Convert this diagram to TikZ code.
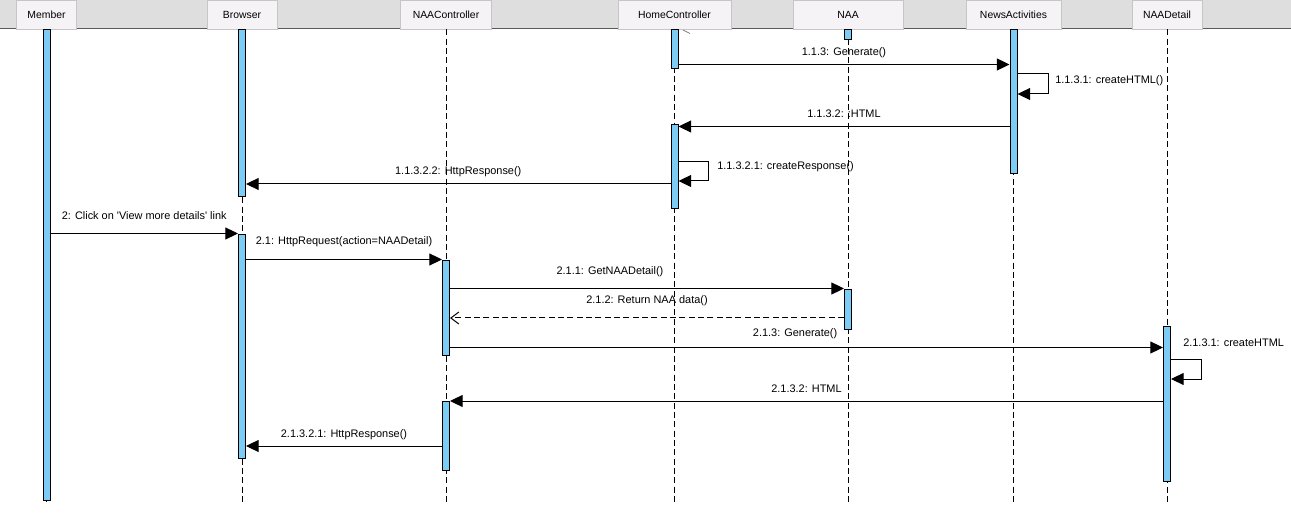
\documentclass[tikz,border=0pt]{standalone}
\usepackage{fontspec}
\setmainfont{Liberation Sans}
\usetikzlibrary{arrows.meta}
\definecolor{hdrgray}{RGB}{222,222,222}
\definecolor{headfill}{RGB}{246,243,246}
\definecolor{barblue}{RGB}{125,204,245}
\begin{document}
\begin{tikzpicture}[x=0.75pt,y=-0.75pt,
  head/.style={draw=gray!45,fill=headfill,minimum height=21.75pt,inner sep=0pt,font=\fontsize{7.8}{9}\selectfont},
  lifeline/.style={line width=0.75pt,dash pattern=on 4.5pt off 2.5pt},
  actbar/.style={draw=black,fill=barblue,line width=0.75pt,minimum width=5.25pt,inner sep=0pt,anchor=north},
  msg/.style={line width=0.75pt,-{Triangle[length=9.5pt,width=9pt]}},
  reply/.style={line width=0.75pt,dash pattern=on 4.5pt off 2.5pt,-{Straight Barb[length=6pt,width=9pt]}},
  lbl/.style={font=\fontsize{8.2}{9.5}\selectfont,inner sep=0pt}]
\useasboundingbox (0,0) rectangle (1291,516);
\fill[white] (0,0) rectangle (1291,516);
\fill[hdrgray] (0,0) rectangle (1291,28.5);
\draw[gray!70!black,line width=1pt] (0,28.5) -- (1291,28.5);

\node[head,minimum width=45pt] (member) at (46.5,14.5) {Member};
\node[head,minimum width=52.5pt] (browser) at (242,14.5) {Browser};
\node[head,minimum width=68.25pt] (naactrl) at (446,14.5) {NAAController};
\node[head,minimum width=84.75pt] (homectrl) at (674.5,14.5) {HomeController};
\node[head,minimum width=82.5pt] (naa) at (848,14.5) {NAA};
\node[head,minimum width=71.25pt] (newsact) at (1013.5,14.5) {NewsActivities};
\node[head,minimum width=52.5pt] (naadetail) at (1167,14.5) {NAADetail};

\foreach \n in {member,browser,naactrl,homectrl,naa,newsact,naadetail}
  \draw[lifeline] (\n.south) -- ++(0,474);

\foreach \n/\x/\ya/\yb in {memberbar/46.5/29/500, browserbar1/242/29/196, browserbar2/242/234/458,
    naactrlbar1/446/260/355, naactrlbar2/446/401/470, homebar1/674.5/29/68, homebar2/674.5/124/208,
    naabar1/848/29/39, naabar2/848/289/329, newsbar/1013.5/29/173, detailbar/1167/326/481}
  \node[actbar,minimum height={(\yb-\ya)*0.75pt}] (\n) at (\x,\ya) {};

\draw[gray,line width=0.6pt] (683,30) -- (690,33.5);

\draw[msg] (homebar1.east |- 0,64.5) -- node[lbl,yshift=8.6pt] (l1) {1.1.3: Generate()} (newsbar.west |- 0,64.5);
\draw[msg] (newsbar.east |- 0,74) -- ++(31,0) -- ++(0,20) -- (newsbar.east |- 0,94);
\node[lbl,anchor=west] (l2) at (1055,81) {1.1.3.1: createHTML()};
\draw[msg] (newsbar.west |- 0,126.5) -- node[lbl,yshift=9.5pt] (l3) {1.1.3.2: :HTML} (homebar2.east |- 0,126.5);
\draw[msg] (homebar2.east |- 0,162) -- ++(30,0) -- ++(0,19) -- (homebar2.east |- 0,181);
\node[lbl,anchor=west] (l4) at (717,167) {1.1.3.2.1: createResponse()};
\draw[msg] (homebar2.west |- 0,184) -- node[lbl,yshift=9pt] (l5) {1.1.3.2.2: HttpResponse()} (browserbar1.east |- 0,184);

\draw[msg] (memberbar.east |- 0,233.5) -- node[lbl,yshift=13.5pt] (l6) {2: Click on \textquotesingle View more details\textquotesingle{} link} (browserbar2.west |- 0,233.5);
\draw[msg] (browserbar2.east |- 0,259.5) -- node[lbl,yshift=13pt] (l7) {2.1: HttpRequest(action=NAADetail)} (naactrlbar1.west |- 0,259.5);
\draw[msg] (naactrlbar1.east |- 0,288.5) -- node[lbl,pos=0.406,yshift=12.8pt] (l8) {2.1.1: GetNAADetail()} (naabar2.west |- 0,288.5);
\draw[reply] (naabar2.west |- 0,318) -- node[lbl,yshift=12.8pt] (l9) {2.1.2: Return NAA data()} (naactrlbar1.east |- 0,318);
\draw[msg] (naactrlbar1.east |- 0,347.5) -- node[lbl,pos=0.484,yshift=10.5pt] (l10) {2.1.3: Generate()} (detailbar.west |- 0,347.5);
\draw[msg] (detailbar.east |- 0,359.5) -- ++(30,0) -- ++(0,19.5) -- (detailbar.east |- 0,379);
\node[lbl,anchor=west] (l11) at (1183,343) {2.1.3.1: createHTML};
\draw[msg] (detailbar.west |- 0,401) -- node[lbl,yshift=9pt] (l12) {2.1.3.2: HTML} (naactrlbar2.east |- 0,401);
\draw[msg] (naactrlbar2.west |- 0,446) -- node[lbl,yshift=8.3pt] (l13) {2.1.3.2.1: HttpResponse()} (browserbar2.east |- 0,446);
\end{tikzpicture}
\end{document}
